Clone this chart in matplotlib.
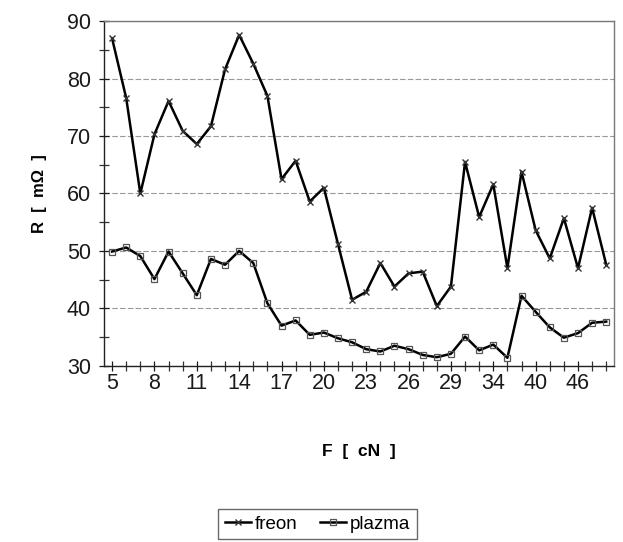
import matplotlib
matplotlib.use("Agg")
import matplotlib.pyplot as plt
from matplotlib.ticker import MultipleLocator, FixedLocator, FixedFormatter

plt.rcParams['font.family'] = ['Liberation Sans', 'DejaVu Sans']

# force values (every point is one category on the x axis)
force_labels = ['5', '8', '11', '14', '17', '20', '23', '26', '29', '34', '40', '46']
freon = [87.0, 76.6, 60.0, 70.3, 76.1, 70.9, 68.6, 71.7, 81.6, 87.6, 82.6, 77.0,
         62.5, 65.7, 58.6, 61.0, 51.2, 41.5, 42.9, 47.9, 43.8, 46.1, 46.4, 40.4,
         43.8, 65.5, 55.9, 61.6, 47.0, 63.8, 53.6, 48.7, 55.7, 47.0, 57.5, 47.6]
plazma = [49.9, 50.6, 49.1, 45.1, 49.9, 46.1, 42.3, 48.6, 47.6, 50.0, 47.9, 40.9,
          37.0, 37.9, 35.4, 35.8, 34.8, 34.1, 32.9, 32.5, 33.5, 32.9, 31.9, 31.5,
          32.1, 35.1, 32.7, 33.7, 31.4, 42.2, 39.4, 36.7, 34.9, 35.7, 37.5, 37.7]

x = list(range(len(freon)))

fig = plt.figure(figsize=(6.23, 5.42), dpi=100)
ax = fig.add_axes([0.167, 0.325, 0.819, 0.636])

ax.plot(x, freon, color='black', lw=1.8, marker='x', ms=4, mew=1.0, mec='#333333',
        label='freon')
ax.plot(x, plazma, color='black', lw=1.8, marker='s', ms=4, mew=0.9, mfc='none',
        mec='#555555', label='plazma')

ax.set_xlim(-0.57, len(x) - 1 + 0.57)
ax.set_ylim(30, 90)

# labels on every third category, small tick on each one
ax.xaxis.set_major_locator(FixedLocator(x[::3]))
ax.xaxis.set_major_formatter(FixedFormatter(force_labels))
ax.xaxis.set_minor_locator(FixedLocator(x))
ax.yaxis.set_major_locator(MultipleLocator(10))
ax.yaxis.set_minor_locator(MultipleLocator(5))
ax.tick_params(which='both', direction='inout', length=7, width=0.9, color='#333333')
ax.tick_params(axis='both', which='major', labelsize=15.5, colors='#1a1a1a')
ax.tick_params(axis='x', which='major', pad=2)
ax.tick_params(axis='y', which='major', pad=6)

ax.yaxis.grid(True, color='#999999', linestyle=(0, (5, 2)), linewidth=0.8)
ax.set_axisbelow(True)

for side in ['left', 'bottom']:
    ax.spines[side].set_color('#222222')
    ax.spines[side].set_linewidth(1.0)
for side in ['top', 'right']:
    ax.spines[side].set_color('#777777')
    ax.spines[side].set_linewidth(1.0)

ax.set_ylabel('R  [  mΩ  ]', fontsize=12, fontweight='bold', labelpad=14)
ax.set_xlabel('F  [  cN  ]', fontsize=12.5, fontweight='bold', labelpad=36)

fig.legend(loc='lower center', bbox_to_anchor=(0.51, -0.012), ncol=2, fontsize=13.5,
           frameon=True, fancybox=False, edgecolor='#444444', handlelength=1.4,
           handletextpad=0.2, columnspacing=1.2, borderpad=0.35)

fig.savefig('out.png', dpi=100, facecolor='white')
